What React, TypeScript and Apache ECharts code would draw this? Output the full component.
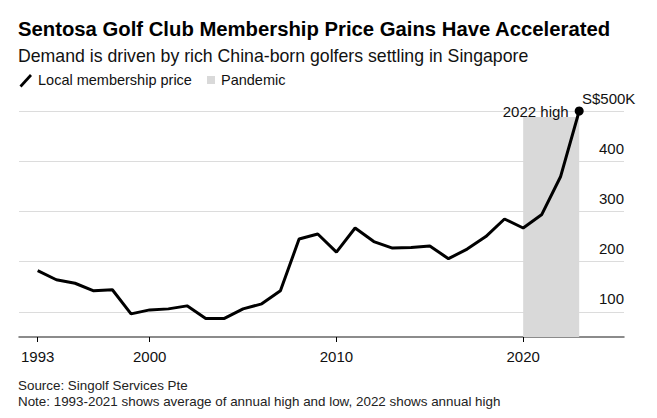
import React, { useEffect, useRef } from 'react';
import * as echarts from 'echarts';

// Annual data (1993-2021 average of annual high & low, 2022 annual high), S$ thousands
const years = [1993, 1994, 1995, 1996, 1997, 1998, 1999, 2000, 2001, 2002, 2003, 2004, 2005, 2006, 2007, 2008, 2009, 2010, 2011, 2012, 2013, 2014, 2015, 2016, 2017, 2018, 2019, 2020, 2021, 2022];
const prices = [182, 164, 157, 142, 144, 96, 104, 106, 112, 87, 87, 106, 116, 142, 245, 255, 219, 267, 240, 227, 228, 231, 206, 225, 250, 285, 267, 294, 369, 500];

// each annual value is plotted at the end of its year
const xTickValues = [1994, 2000, 2010, 2020];
const xTickLabels = ['1993', '2000', '2010', '2020'];
const yTickValues = [100, 200, 300, 400, 500];
const yTickLabels = ['100', '200', '300', '400', 'S$500K'];

// Pandemic period: start of 2020 through end of 2022
const pandemicRange = [2020, 2023];
const pandemicTop = 488;

const FONT = "'Liberation Sans', Arial, Helvetica, sans-serif";

export default function App() {
  const ref = useRef<HTMLDivElement>(null);

  useEffect(() => {
    if (!ref.current) return;
    const chart = echarts.init(ref.current, null, { renderer: 'svg' });
    const last = years.length - 1;
    const seriesData = years.map((y, i) => {
      if (i === last) {
        return {
          value: [y + 1, prices[i]],
          label: {
            show: true,
            position: 'left',
            distance: 6,
            formatter: `${y} high`,
            fontFamily: FONT,
            fontSize: 15,
            color: '#111',
          },
        };
      }
      return { value: [y + 1, prices[i]] };
    });

    chart.setOption({
      animation: false,
      backgroundColor: '#fff',
      textStyle: { fontFamily: FONT },
      title: [
        {
          text: 'Sentosa Golf Club Membership Price Gains Have Accelerated',
          left: 18,
          top: 19,
          padding: 0,
          textStyle: { fontFamily: FONT, fontSize: 20.3, fontWeight: 'bold', color: '#000' },
        },
        {
          text: 'Demand is driven by rich China-born golfers settling in Singapore',
          left: 18,
          top: 47,
          padding: 0,
          textStyle: { fontFamily: FONT, fontSize: 17.7, fontWeight: 'normal', color: '#111' },
        },
        {
          text: 'Source: Singolf Services Pte',
          left: 18,
          top: 379,
          padding: 0,
          textStyle: { fontFamily: FONT, fontSize: 13.4, fontWeight: 'normal', color: '#222' },
        },
        {
          text: 'Note: 1993-2021 shows average of annual high and low, 2022 shows annual high',
          left: 18,
          top: 395,
          padding: 0,
          textStyle: { fontFamily: FONT, fontSize: 13.4, fontWeight: 'normal', color: '#222' },
        },
      ],
      graphic: [
        {
          type: 'polygon',
          shape: { points: [[19.5, 85.5], [21.5, 87.5], [32, 76], [30, 74]] },
          style: { fill: '#000' },
        },
        {
          type: 'text',
          left: 38,
          top: 72,
          style: { text: 'Local membership price', font: `14.5px ${FONT}`, fill: '#111' },
        },
        {
          type: 'rect',
          shape: { x: 207, y: 76, width: 8, height: 8 },
          style: { fill: '#d9d9d9' },
        },
        {
          type: 'text',
          left: 221,
          top: 72,
          style: { text: 'Pandemic', font: `14.5px ${FONT}`, fill: '#111' },
        },
      ],
      grid: { left: 19, right: 33, top: 111, bottom: 81, containLabel: false },
      xAxis: {
        type: 'value',
        min: 1993,
        max: 2025.4,
        splitLine: { show: false },
        axisLine: { show: true, lineStyle: { color: '#666', width: 1.5 } },
        axisTick: {
          show: true,
          customValues: xTickValues,
          length: 5,
          lineStyle: { color: '#000', width: 1 },
        },
        axisLabel: {
          customValues: xTickValues,
          formatter: (v: number) => xTickLabels[xTickValues.indexOf(v)] ?? '',
          margin: 12,
          fontFamily: FONT,
          fontSize: 15,
          color: '#111',
        },
      },
      yAxis: {
        type: 'value',
        position: 'right',
        min: 50,
        max: 500,
        axisLine: { show: false },
        axisTick: { show: false, customValues: yTickValues },
        splitLine: { show: true, lineStyle: { color: '#dcdcdc', width: 1 } },
        axisLabel: {
          inside: true,
          customValues: yTickValues,
          margin: 0,
          verticalAlign: 'bottom',
          lineHeight: 26,
          fontFamily: FONT,
          fontSize: 15,
          color: '#111',
          formatter: (v: number) => {
            const t = yTickLabels[yTickValues.indexOf(v)] ?? '';
            return v === 500 ? `{k|${t}}` : t;
          },
          rich: {
            k: {
              width: 42,
              align: 'left',
              lineHeight: 26,
              fontFamily: FONT,
              fontSize: 15,
              color: '#111',
            },
          },
        },
      },
      series: [
        {
          name: 'Local membership price',
          type: 'line',
          data: seriesData,
          clip: false,
          symbol: 'circle',
          symbolSize: (_v: any, p: any) => (p.dataIndex === last ? 9 : 0),
          lineStyle: { color: '#000', width: 3 },
          itemStyle: { color: '#000' },
          z: 3,
          markArea: {
            silent: true,
            itemStyle: { color: '#d9d9d9' },
            data: [
              [
                { xAxis: pandemicRange[0], yAxis: 50 },
                { xAxis: pandemicRange[1], yAxis: pandemicTop },
              ],
            ],
          },
        },
      ],
    });

    return () => chart.dispose();
  }, []);

  return (
    <div
      ref={ref}
      style={{ position: 'fixed', left: 0, top: 0, width: 657, height: 418, background: '#fff' }}
    />
  );
}
